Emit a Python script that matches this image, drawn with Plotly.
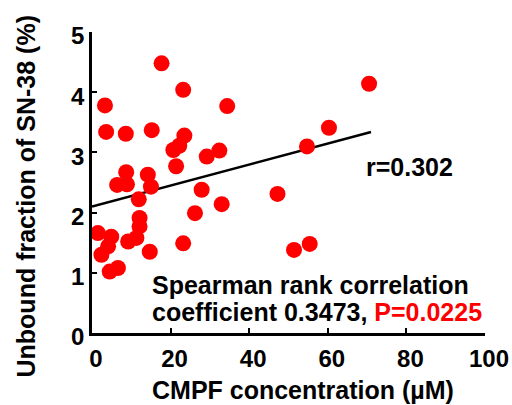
import plotly.graph_objects as go

# CMPF concentration (uM)
cmpf = [17.7, 23.2, 3.3, 34.4, 70.5, 3.6, 8.6, 15.2, 23.5, 20.7,
        22.2, 29.2, 32.4, 21.4, 8.7, 14.2, 6.4, 8.9, 15.0, 11.9,
        27.9, 33.0, 47.2, 60.3, 54.7, 26.2, 12.1, 12.1, 1.5, 4.9,
        4.1, 2.4, 9.2, 11.3, 14.7, 23.2, 51.4, 55.4, 4.5, 6.6]
# Unbound fraction of SN-38 (%)
unbound = [4.48, 4.04, 3.78, 3.77, 4.14, 3.34, 3.31, 3.37, 3.28, 3.04,
           3.11, 2.93, 3.03, 2.77, 2.67, 2.63, 2.46, 2.47, 2.43, 2.22,
           2.38, 2.14, 2.31, 3.41, 3.10, 1.99, 1.91, 1.77, 1.66, 1.60,
           1.44, 1.30, 1.52, 1.58, 1.35, 1.49, 1.38, 1.48, 1.02, 1.08]

# regression line end points
fit_x = [0, 71]
fit_y = [2.10, 3.34]

x_ticks = [0, 20, 40, 60, 80, 100]
y_ticks = [0, 1, 2, 3, 4, 5]

FONT = "Arial, 'Liberation Sans', sans-serif"

fig = go.Figure()
fig.add_trace(go.Scatter(x=fit_x, y=fit_y, mode="lines",
                         line=dict(color="black", width=2.5),
                         showlegend=False, hoverinfo="skip"))
fig.add_trace(go.Scatter(x=cmpf, y=unbound, mode="markers",
                         marker=dict(color="#FF0000", size=16, line=dict(width=0)),
                         cliponaxis=False, showlegend=False))

axis_common = dict(showline=True, linecolor="black", linewidth=2.5,
                   ticks="inside", ticklen=5, tickwidth=2, tickcolor="black",
                   showgrid=False, zeroline=False, automargin=False,
                   tickfont=dict(family=FONT, size=24, color="black", weight="bold"))

fig.update_xaxes(range=[0, 100], tickvals=x_ticks, ticklabelshift=4,
                 ticklabelstandoff=2, **axis_common)
fig.update_yaxes(range=[0, 5], tickvals=y_ticks, ticklabelshift=4, **axis_common)

anns = [
    dict(text="r=0.302", x=(364 - 92) / 393, y=(333 - 167) / 301,
         xanchor="left", yanchor="middle"),
    dict(text="Spearman rank correlation", x=(150 - 92) / 393, y=(333 - 285) / 301,
         xanchor="left", yanchor="middle"),
    dict(text="coefficient 0.3473, <span style='color:#FF0000'>P=0.0225</span>",
         x=(150 - 92) / 393, y=(333 - 312) / 301,
         xanchor="left", yanchor="middle"),
    dict(text="CMPF concentration (µM)", x=(303 - 92) / 393, y=(333 - 390) / 301,
         xanchor="center", yanchor="middle"),
]
for a in anns:
    fig.add_annotation(text=a["text"], x=a["x"], y=a["y"], xref="paper", yref="paper",
                       xanchor=a["xanchor"], yanchor=a["yanchor"], showarrow=False,
                       font=dict(family=FONT, size=25, color="black", weight="bold"))

fig.add_annotation(text="Unbound fraction of SN-38 (%)", textangle=-90,
                   x=(25 - 92) / 393, y=(333 - 196.5) / 301, xref="paper", yref="paper",
                   xanchor="center", yanchor="middle", showarrow=False,
                   font=dict(family=FONT, size=25, color="black", weight="bold"))

fig.update_layout(width=512, height=405, plot_bgcolor="white", paper_bgcolor="white",
                  margin=dict(l=92, r=27, t=32, b=72, autoexpand=False))

fig.write_html("out.html")
